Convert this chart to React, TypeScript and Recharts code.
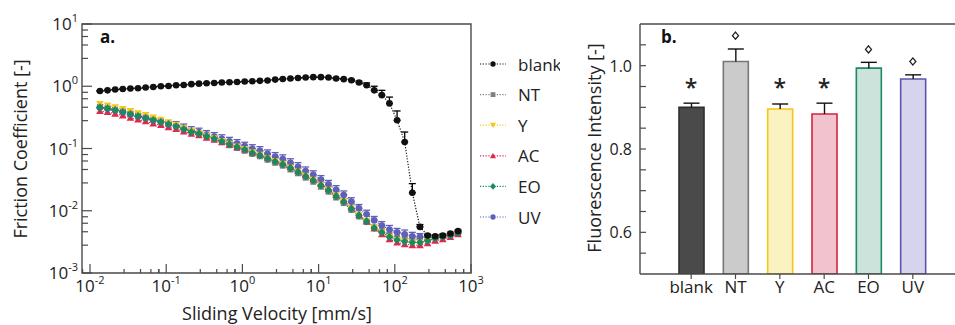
import React from 'react';
import {
  LineChart, Line, XAxis, YAxis, ReferenceArea, ErrorBar, Legend,
  BarChart, Bar, Cell, ReferenceLine, ReferenceDot,
} from 'recharts';

const FONT = '"Open Sans", "Liberation Sans", sans-serif';
const AXIS = '#4a4a4a';
const INK = '#222';

// panel a: friction vs sliding velocity
const VELOCITY = [
  0.01349, 0.01698, 0.02138, 0.02692, 0.03388, 0.04266, 0.0537, 0.06761, 0.08511, 0.1072,
  0.1349, 0.1698, 0.2138, 0.2692, 0.3388, 0.4266, 0.537, 0.6761, 0.8511, 1.072,
  1.349, 1.698, 2.138, 2.692, 3.388, 4.266, 5.37, 6.761, 8.511, 10.72,
  13.49, 16.98, 21.38, 26.92, 33.88, 42.66, 53.7, 67.61, 85.11, 107.2,
  134.9, 169.8, 213.8, 269.2, 338.8, 426.6, 537.0, 676.1,
];
const BLANK = [
  0.84, 0.86, 0.885, 0.905, 0.92, 0.93, 0.953, 0.975, 1.0, 1.01,
  1.04, 1.05, 1.08, 1.1, 1.12, 1.13, 1.15, 1.16, 1.17, 1.19,
  1.2, 1.22, 1.24, 1.28, 1.31, 1.33, 1.36, 1.38, 1.4, 1.4,
  1.38, 1.33, 1.3, 1.25, 1.15, 1.04, 0.86, 0.72, 0.53, 0.284,
  0.127, 0.0195, 0.0055, 0.004, 0.0039, 0.004, 0.0043, 0.0047,
];
const BLANK_ERR = [
  0, 0, 0, 0, 0, 0, 0, 0, 0, 0,
  0, 0, 0, 0, 0, 0, 0, 0, 0, 0,
  0, 0, 0, 0, 0, 0, 0, 0, 0, 0,
  0, 0, 0, 0.04, 0.06, 0.09, 0.14, 0.14, 0.14, 0.117,
  0.057, 0.0078, 0.0005, 0.0002, 0.0002, 0.0002, 0.0002, 0.0002,
];
const NT = [
  0.465, 0.447, 0.42, 0.394, 0.362, 0.337, 0.315, 0.29, 0.272, 0.25,
  0.231, 0.208, 0.188, 0.177, 0.16, 0.147, 0.127, 0.113, 0.102, 0.092,
  0.082, 0.075, 0.066, 0.059, 0.053, 0.046, 0.04, 0.034, 0.0292, 0.0243,
  0.0202, 0.0163, 0.0133, 0.0103, 0.0081, 0.0066, 0.0054, 0.0047, 0.0041, 0.0037,
  0.0036, 0.0035, 0.0035, 0.0035, 0.0037, 0.0039, 0.0041, 0.0044,
];
const Y = [
  0.52, 0.49, 0.46, 0.43, 0.4, 0.37, 0.345, 0.315, 0.29, 0.265,
  0.24, 0.214, 0.192, 0.178, 0.16, 0.146, 0.132, 0.119, 0.108, 0.098,
  0.087, 0.079, 0.07, 0.063, 0.057, 0.0495, 0.0428, 0.0364, 0.0314, 0.0261,
  0.0217, 0.0176, 0.0143, 0.011, 0.0086, 0.0069, 0.0054, 0.0045, 0.0038, 0.0034,
  0.0032, 0.0031, 0.0031, 0.0033, 0.0035, 0.0037, 0.004, 0.0043,
];
const AC = [
  0.4, 0.385, 0.362, 0.34, 0.313, 0.292, 0.274, 0.252, 0.238, 0.22,
  0.205, 0.188, 0.172, 0.164, 0.149, 0.138, 0.126, 0.115, 0.105, 0.096,
  0.086, 0.08, 0.071, 0.064, 0.058, 0.0505, 0.0438, 0.0372, 0.0322, 0.0268,
  0.0222, 0.0179, 0.0146, 0.0112, 0.0086, 0.0068, 0.0052, 0.0042, 0.0035, 0.0031,
  0.0029, 0.0028, 0.0028, 0.003, 0.0033, 0.0035, 0.0038, 0.0042,
];
const EO = [
  0.455, 0.438, 0.411, 0.386, 0.355, 0.33, 0.309, 0.284, 0.267, 0.245,
  0.227, 0.204, 0.184, 0.174, 0.157, 0.144, 0.13, 0.117, 0.106, 0.096,
  0.085, 0.078, 0.069, 0.062, 0.056, 0.0486, 0.042, 0.0357, 0.0308, 0.0256,
  0.0213, 0.0172, 0.014, 0.0108, 0.0084, 0.0068, 0.0053, 0.0045, 0.0038, 0.0034,
  0.0032, 0.0031, 0.0031, 0.0033, 0.0036, 0.0038, 0.004, 0.0044,
];
const UV = [
  0.455, 0.438, 0.411, 0.386, 0.355, 0.33, 0.309, 0.286, 0.27, 0.25,
  0.234, 0.213, 0.193, 0.183, 0.167, 0.155, 0.143, 0.13, 0.12, 0.109,
  0.099, 0.092, 0.082, 0.074, 0.068, 0.059, 0.051, 0.0435, 0.0378, 0.0316,
  0.0265, 0.0218, 0.0179, 0.014, 0.0109, 0.0088, 0.007, 0.0058, 0.005, 0.0045,
  0.0042, 0.0039, 0.0038, 0.0037, 0.0038, 0.0039, 0.0041, 0.0044,
];
const UV_ERR = [
  0, 0, 0, 0, 0, 0, 0, 0, 0, 0,
  0.037, 0.034, 0.031, 0.029, 0.027, 0.025, 0.023, 0.021, 0.019, 0.017,
  0.016, 0.015, 0.013, 0.012, 0.011, 0.0094, 0.0082, 0.007, 0.006, 0.0051,
  0.0042, 0.0035, 0.0029, 0.0022, 0.0017, 0.0014, 0.0011, 0.0009, 0.0008, 0.0007,
  0.0007, 0.0006, 0.0005, 0.0003, 0.0003, 0.0003, 0.0003, 0.0003,
];

const X_MIN = 0.00785;
const X_MAJOR = [0.01, 0.1, 1, 10, 100, 1000];
const Y_MAJOR = [0.001, 0.01, 0.1, 1, 10];
const MINOR_STEPS = [2.8, 4.6, 6.3, 8];

// panel b: fluorescence
const CATEGORIES = ['blank', 'NT', 'Y', 'AC', 'EO', 'UV'];
const INTENSITY = [0.9, 1.01, 0.896, 0.884, 0.994, 0.968];
const INTENSITY_ERR = [0.01, 0.03, 0.012, 0.026, 0.014, 0.01];
const MARKS = ['*', 'diamond', '*', '*', 'diamond', 'diamond'];
const MARK_Y = [0.959, 1.072, 0.959, 0.959, 1.039, 1.01];
const BAR_TICKS = [0.55, 0.6, 0.65, 0.7, 0.75, 0.8, 0.85, 0.9, 0.95, 1.0, 1.05];
const BAR_LABELS = [0.6, 0.8, 1.0];
const BAR_FILL = ['#4a4a4a', '#cbcbcb', '#fbf2c2', '#f1c3cf', '#cbe3da', '#d5d4ec'];
const BAR_STROKE = ['#2e2e2e', '#777777', '#f5c518', '#d4233f', '#1f8a5f', '#5a55b0'];

const SERIES = [
  { key: 'blank', name: 'blank', color: '#111111', shape: 'circle' },
  { key: 'nt', name: 'NT', color: '#808080', shape: 'square' },
  { key: 'y', name: 'Y', color: '#f7c61a', shape: 'down' },
  { key: 'ac', name: 'AC', color: '#e2264d', shape: 'up' },
  { key: 'eo', name: 'EO', color: '#1b8a5e', shape: 'diamond' },
  { key: 'uv', name: 'UV', color: '#6060b8', shape: 'circle' },
];
const DRAW_ORDER = ['nt', 'uv', 'y', 'ac', 'eo', 'blank'];

const lineData = VELOCITY.map((v, i) => ({
  v,
  blank: BLANK[i],
  blankErr: [0, BLANK_ERR[i]],
  nt: NT[i],
  y: Y[i],
  ac: AC[i],
  eo: EO[i],
  uv: UV[i],
  uvErr: [0, UV_ERR[i]],
}));

const barData = CATEGORIES.map((name, i) => ({
  name,
  value: INTENSITY[i],
  range: [INTENSITY[i], INTENSITY[i] + INTENSITY_ERR[i]],
}));

const X_TICKS = X_MAJOR.flatMap((m) => [m / 10 * 8, m, ...MINOR_STEPS.map((s) => m * s)])
  .filter((t) => t >= X_MIN && t <= 1000);
const Y_TICKS = Y_MAJOR.flatMap((m) => [m, ...MINOR_STEPS.map((s) => m * s)]).filter((t) => t <= 10);

function marker(shape: string, color: string, cx: number, cy: number, s = 1, key?: string) {
  switch (shape) {
    case 'square':
      return <rect key={key} x={cx - 3 * s} y={cy - 3 * s} width={6 * s} height={6 * s} fill={color} />;
    case 'down':
      return <polygon key={key} points={`${cx - 3.8 * s},${cy - 3 * s} ${cx + 3.8 * s},${cy - 3 * s} ${cx},${cy + 3.6 * s}`} fill={color} />;
    case 'up':
      return <polygon key={key} points={`${cx - 3.8 * s},${cy + 3 * s} ${cx + 3.8 * s},${cy + 3 * s} ${cx},${cy - 3.6 * s}`} fill={color} />;
    case 'diamond':
      return <polygon key={key} points={`${cx},${cy - 4.2 * s} ${cx + 3.8 * s},${cy} ${cx},${cy + 4.2 * s} ${cx - 3.8 * s},${cy}`} fill={color} />;
    default:
      return <circle key={key} cx={cx} cy={cy} r={3.3 * s} fill={color} />;
  }
}

const LogXTick = (props: any) => {
  const { x, y, payload } = props;
  const v = payload.value;
  const major = X_MAJOR.includes(v);
  return (
    <g>
      <line x1={x} x2={x} y1={y} y2={y - (major ? 9 : 4)} stroke={AXIS} strokeWidth={1.2} />
      {major && (
        <text x={x} y={y + 19} textAnchor="middle" fontFamily={FONT} fontSize={17} fill={INK}>
          10<tspan dy={-8} fontSize={11}>{Math.round(Math.log10(v))}</tspan>
        </text>
      )}
    </g>
  );
};

const LogYTick = (props: any) => {
  const { x, y, payload } = props;
  const v = payload.value;
  const major = Y_MAJOR.includes(v);
  return (
    <g>
      <line x1={x} x2={x + (major ? 10 : 6)} y1={y} y2={y} stroke={AXIS} strokeWidth={1.2} />
      {major && (
        <text x={x - 4} y={y + 6} textAnchor="end" fontFamily={FONT} fontSize={17} fill={INK}>
          10<tspan dy={-8} fontSize={11}>{Math.round(Math.log10(v))}</tspan>
        </text>
      )}
    </g>
  );
};

const BarYTick = (props: any) => {
  const { x, y, payload } = props;
  const v = payload.value;
  return (
    <g>
      <line x1={x} x2={x + 6} y1={y} y2={y} stroke={AXIS} strokeWidth={1.2} />
      {BAR_LABELS.includes(v) && (
        <text x={x - 8} y={y + 6} textAnchor="end" fontFamily={FONT} fontSize={16} fill={INK}>
          {v.toFixed(1)}
        </text>
      )}
    </g>
  );
};

const Whisker = (props: any) => {
  const { x, y, width, height } = props;
  if (x == null || y == null) return null;
  const cx = x + width / 2;
  return (
    <g>
      <line x1={cx} x2={cx} y1={y} y2={y + height} stroke="#111" strokeWidth={1.4} />
      <line x1={cx - 8} x2={cx + 8} y1={y} y2={y} stroke="#111" strokeWidth={1.4} />
    </g>
  );
};

const LegendBox = () => (
  <svg width={84} height={180}>
    {SERIES.map((s, k) => {
      const cy = 16 + 30.6 * k;
      return (
        <g key={s.key}>
          <line x1={4} x2={30} y1={cy} y2={cy} stroke={s.color} strokeWidth={1.2} strokeDasharray="1.2 1.6" />
          {marker(s.shape, s.color, 17, cy, 0.8)}
          <text x={42} y={cy} dominantBaseline="central" fontFamily={FONT} fontSize={17} fill={INK}>
            {s.name}
          </text>
        </g>
      );
    })}
  </svg>
);

export default function App() {
  const byKey = (k: string) => SERIES.find((s) => s.key === k)!;
  return (
    <div style={{ position: 'fixed', left: 0, top: 0, width: 955, height: 325, overflow: 'hidden', background: '#fff' }}>
      <div style={{ position: 'absolute', left: 0, top: 0 }}>
        <LineChart width={560} height={325} data={lineData} margin={{ top: 24, right: 89, bottom: 22, left: 22 }}>
          <XAxis
            dataKey="v"
            type="number"
            scale="log"
            domain={[X_MIN, 1000]}
            allowDataOverflow
            ticks={X_TICKS}
            interval={0}
            tick={<LogXTick />}
            tickSize={0}
            tickMargin={0}
            axisLine={false}
            height={30}
          />
          <YAxis
            type="number"
            scale="log"
            domain={[0.001, 10]}
            allowDataOverflow
            ticks={Y_TICKS}
            interval={0}
            tick={<LogYTick />}
            tickSize={0}
            tickMargin={0}
            axisLine={false}
            width={60}
          />
          <ReferenceArea x1={X_MIN} x2={1000} y1={0.001} y2={10} fill="none" stroke={AXIS} strokeWidth={1.4} />
          {DRAW_ORDER.map((k) => {
            const s = byKey(k);
            return (
              <Line
                key={k}
                dataKey={k}
                name={s.name}
                type="linear"
                stroke={s.color}
                strokeWidth={1.2}
                strokeDasharray="1.2 1.6"
                isAnimationActive={false}
                activeDot={false}
                dot={(p: any) => (p.cy == null ? <g key={`${k}-${p.index}`} /> : marker(s.shape, s.color, p.cx, p.cy, 1, `${k}-${p.index}`))}
              >
                {k === 'blank' && <ErrorBar dataKey="blankErr" width={3.5} stroke="#000" strokeWidth={1.3} direction="y" />}
                {k === 'uv' && <ErrorBar dataKey="uvErr" width={3.5} stroke={s.color} strokeWidth={1.3} direction="y" />}
              </Line>
            );
          })}
          <Legend
            layout="vertical"
            align="center"
            verticalAlign="middle"
            wrapperStyle={{ left: 476, top: 48, width: 84, height: 180 }}
            content={() => <LegendBox />}
          />
        </LineChart>
      </div>

      <div style={{ position: 'absolute', left: 560, top: 0 }}>
        <BarChart width={420} height={325} data={barData} margin={{ top: 24, right: 0, bottom: 21, left: 20 }} barGap={-25} barSize={25}>
          <XAxis
            dataKey="name"
            padding={{ left: 29, right: 45 }}
            height={30}
            interval={0}
            axisLine={{ stroke: AXIS, strokeWidth: 1.4 }}
            tickLine={{ stroke: AXIS, strokeWidth: 1.2 }}
            tickSize={5}
            tick={{ fontSize: 17, fill: INK, fontFamily: FONT }}
          />
          <YAxis
            type="number"
            domain={[0.5, 1.1]}
            allowDataOverflow
            ticks={BAR_TICKS}
            interval={0}
            tick={<BarYTick />}
            tickSize={0}
            tickMargin={0}
            axisLine={{ stroke: AXIS, strokeWidth: 1.4 }}
            width={60}
          />
          <ReferenceLine y={1.1} stroke={AXIS} strokeWidth={1.4} />
          <Bar dataKey="value" strokeWidth={1.6} isAnimationActive={false}>
            {CATEGORIES.map((c, i) => (
              <Cell key={c} fill={BAR_FILL[i]} stroke={BAR_STROKE[i]} />
            ))}
          </Bar>
          <Bar dataKey="range" shape={<Whisker />} isAnimationActive={false} />
          {CATEGORIES.map((c, i) => (
            <ReferenceDot
              key={`m-${c}`}
              x={c}
              y={MARK_Y[i]}
              r={0}
              shape={(p: any) =>
                MARKS[i] === '*' ? (
                  <text x={p.cx} y={p.cy + 13} textAnchor="middle" fontFamily={FONT} fontWeight={600} fontSize={23} fill={INK}>*</text>
                ) : (
                  <polygon
                    points={`${p.cx},${p.cy - 3.6} ${p.cx + 3},${p.cy} ${p.cx},${p.cy + 3.6} ${p.cx - 3},${p.cy}`}
                    fill="#fff"
                    stroke={INK}
                    strokeWidth={1.3}
                  />
                )
              }
            />
          ))}
        </BarChart>
      </div>

      <svg width={955} height={325} style={{ position: 'absolute', left: 0, top: 0, pointerEvents: 'none' }}>
        <text x={20} y={149} transform="rotate(-90 20 149)" textAnchor="middle" dominantBaseline="central" fontFamily={FONT} fontSize={18} fill={INK}>
          Friction Coefficient [-]
        </text>
        <text x={277} y={313} textAnchor="middle" dominantBaseline="central" fontFamily={FONT} fontSize={18} fill={INK}>
          Sliding Velocity [mm/s]
        </text>
        <text x={594} y={148} transform="rotate(-90 594 148)" textAnchor="middle" dominantBaseline="central" fontFamily={FONT} fontSize={18} fill={INK}>
          Fluorescence Intensity [-]
        </text>
        <text x={100} y={43} fontFamily={FONT} fontWeight={700} fontSize={17} fill="#111">a.</text>
        <text x={661} y={43} fontFamily={FONT} fontWeight={700} fontSize={17} fill="#111">b.</text>
      </svg>
    </div>
  );
}
